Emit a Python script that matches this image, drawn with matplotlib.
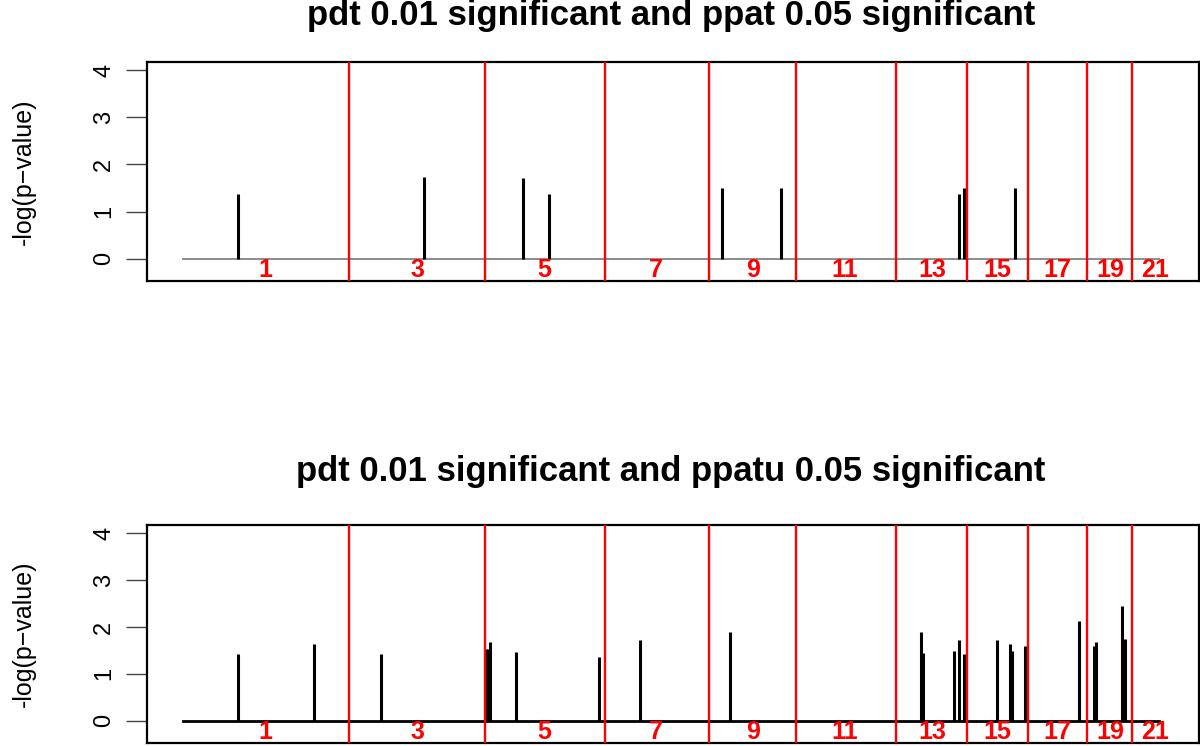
import matplotlib
matplotlib.use("Agg")
import matplotlib.pyplot as plt

# genome position (arbitrary cumulative units) and -log(p) values
top_title = "pdt 0.01 significant and ppat 0.05 significant"
bottom_title = "pdt 0.01 significant and ppatu 0.05 significant"

top_pos = [165, 723, 1020, 1098, 1617, 1794, 2328, 2343, 2496]
top_val = [1.38, 1.74, 1.71, 1.38, 1.50, 1.50, 1.38, 1.50, 1.50]

bottom_pos = [165, 393, 594, 909, 915, 921, 999, 1248, 1371, 1641, 2214, 2220,
              2313, 2328, 2343, 2442, 2481, 2487, 2526, 2688, 2733, 2739, 2817, 2826]
bottom_val = [1.43, 1.64, 1.43, 1.52, 1.52, 1.67, 1.46, 1.35, 1.72, 1.89, 1.89, 1.44,
              1.48, 1.73, 1.42, 1.73, 1.64, 1.48, 1.59, 2.13, 1.60, 1.69, 2.44, 1.74]

baseline_range = [0, 2928]
chrom_boundaries = [498, 906, 1266, 1578, 1839, 2139, 2352, 2535, 2712, 2847]
chrom_label_pos = [246, 702, 1083, 1419, 1710, 1986, 2247, 2442, 2622, 2781, 2916]
chrom_labels = ["1", "3", "5", "7", "9", "11", "13", "15", "17", "19", "21"]
yticks = [0, 1, 2, 3, 4]

FONT = ["Liberation Sans", "DejaVu Sans"]
plt.rcParams["font.family"] = FONT

fig = plt.figure(figsize=(12, 7.46), dpi=100)
W, H = 1200, 746

def make_ax(top_px, bot_px):
    return fig.add_axes([147 / W, 1 - bot_px / H, (1199 - 147) / W, (bot_px - top_px) / H])

panels = [
    (make_ax(62, 281), top_pos, top_val, top_title, "#8c8c8c", 1.4, 16),
    (make_ax(525, 743), bottom_pos, bottom_val, bottom_title, "black", 2.0, 472),
]

for ax, pos, val, title, basecol, baselw, title_y in panels:
    ax.set_xlim(-108, 3048)
    ax.set_ylim(-0.472, 4.172)
    ax.plot(baseline_range, [0, 0], color=basecol, lw=baselw, zorder=2)
    ax.vlines(pos, 0, val, color="black", lw=2.2, zorder=3)
    for b in chrom_boundaries:
        ax.axvline(b, color="red", lw=1.7, zorder=4)
    for p, lab in zip(chrom_label_pos, chrom_labels):
        ax.text(p, -0.24, lab, color="red", fontsize=18, fontweight="bold",
                ha="center", va="center", zorder=5)
    ax.set_xticks([])
    ax.set_yticks(yticks)
    ax.set_yticklabels([str(t) for t in yticks], rotation=90, va="center", fontsize=17)
    ax.tick_params(axis="y", length=15, width=1.0, pad=8, color="#444444")
    for s in ax.spines.values():
        s.set_linewidth(1.6)
        s.set_color("black")
    ax.set_ylabel("-log(p\u2212value)", fontsize=18, va="center")
    ax.yaxis.set_label_coords(-0.117, 0.5)
    fig.text(671 / W, 1 - title_y / H, title, ha="center", va="center",
             fontsize=25, fontweight="bold")

fig.savefig("out.png", dpi=100)
